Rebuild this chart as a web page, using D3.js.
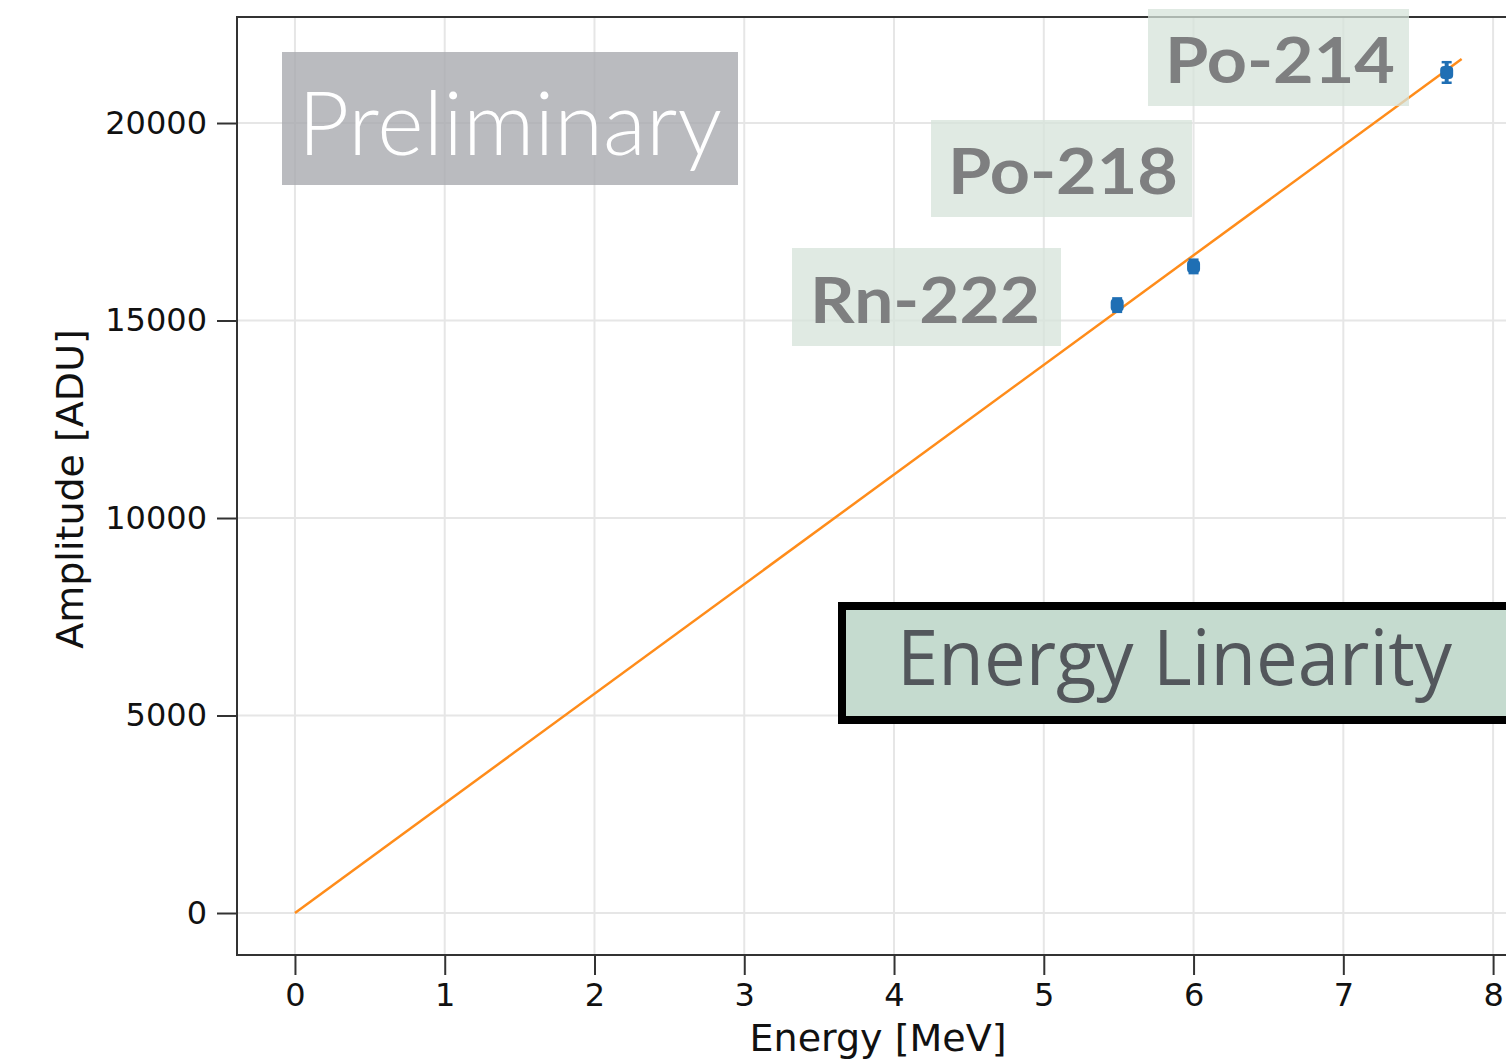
<!DOCTYPE html>
<html>
<head>
<meta charset="utf-8">
<script src="https://cdn.jsdelivr.net/npm/d3@7"></script>
<style>
  body { margin: 0; background: #fff; }
  svg { display: block; }
</style>
</head>
<body>
<svg id="chart" width="1506" height="1061"></svg>
<script>
// measured points (energy in MeV, amplitude in ADU)
const isotopes = ["Rn-222", "Po-218", "Po-214"];
const energies = [5.49, 6.00, 7.69];
const amplitudes = [15390, 16370, 21280];
const errors = [170, 170, 260];
// linear fit, drawn between its two ends
const fitE = [0, 7.79];
const fitA = [0, 21620];
const xTicks = [0, 1, 2, 3, 4, 5, 6, 7, 8];
const yTicks = [0, 5000, 10000, 15000, 20000];

const svg = d3.select("#chart");
const M = { left: 237, top: 17, bottom: 955, right: 1553 };

const x = d3.scaleLinear().domain([-0.387, 8.4]).range([M.left, M.right]);
const y = d3.scaleLinear().domain([-1063, 22684]).range([M.bottom, M.top]);

const g = svg.append("g");

// grid
g.append("g").selectAll("line").data(xTicks).join("line")
  .attr("x1", d => x(d)).attr("x2", d => x(d)).attr("y1", M.top).attr("y2", M.bottom)
  .attr("stroke", "#e6e6e6").attr("stroke-width", 2);
g.append("g").selectAll("line").data(yTicks).join("line")
  .attr("x1", M.left).attr("x2", M.right).attr("y1", d => y(d)).attr("y2", d => y(d))
  .attr("stroke", "#e6e6e6").attr("stroke-width", 2);

// fit line
g.append("path")
  .datum(fitE.map((e, i) => [e, fitA[i]]))
  .attr("d", d3.line().x(d => x(d[0])).y(d => y(d[1])))
  .attr("fill", "none").attr("stroke", "#ff8c1a").attr("stroke-width", 2.5);

// points with error bars
const pts = energies.map((e, i) => ({ e, a: amplitudes[i], err: errors[i] }));
const pg = g.append("g").attr("fill", "#1f6fb4").attr("stroke", "#1f6fb4");
pts.forEach(p => {
  const cx = x(p.e);
  pg.append("line").attr("x1", cx).attr("x2", cx).attr("y1", y(p.a - p.err)).attr("y2", y(p.a + p.err)).attr("stroke-width", 4);
  [p.a - p.err, p.a + p.err].forEach(v => {
    pg.append("line").attr("x1", cx - 5).attr("x2", cx + 5).attr("y1", y(v)).attr("y2", y(v)).attr("stroke-width", 2.5);
  });
  pg.append("rect").attr("x", cx - 6.5).attr("y", y(p.a) - 6.5).attr("width", 13).attr("height", 13).attr("rx", 4).attr("stroke", "none");
});

// axes
const xAxis = d3.axisBottom(x).tickValues(xTicks).tickSize(20).tickPadding(8).tickFormat(d3.format("d"));
const yAxis = d3.axisLeft(y).tickValues(yTicks).tickSize(20).tickPadding(10).tickFormat(d3.format("d"));
const gx = svg.append("g").attr("transform", `translate(0,${M.bottom})`).call(xAxis);
const gy = svg.append("g").attr("transform", `translate(${M.left},0)`).call(yAxis);
[gx, gy].forEach(a => {
  a.select(".domain").remove();
  a.selectAll(".tick line").attr("stroke", "#333").attr("stroke-width", 2);
  a.selectAll(".tick text").attr("fill", "#111").style("font-family", "DejaVu Sans").style("font-size", "32px");
});

// frame
svg.append("rect").attr("x", M.left).attr("y", M.top).attr("width", M.right - M.left).attr("height", M.bottom - M.top)
  .attr("fill", "none").attr("stroke", "#333").attr("stroke-width", 2);

// axis titles
svg.append("text").attr("x", 878).attr("y", 1051).attr("text-anchor", "middle")
  .style("font-family", "DejaVu Sans").style("font-size", "38px").attr("fill", "#111").text("Energy [MeV]");
svg.append("text").attr("transform", "translate(83,489) rotate(-90)").attr("text-anchor", "middle")
  .style("font-family", "DejaVu Sans").style("font-size", "38px").attr("fill", "#111").text("Amplitude [ADU]");

// isotope labels
const labelBoxes = [
  { x: 792, y: 248, w: 269, h: 98, tx: 810, ty: 323 },
  { x: 931, y: 120, w: 261, h: 97, tx: 948, ty: 194 },
  { x: 1148, y: 9, w: 261, h: 97, tx: 1165, ty: 83 }
];
isotopes.forEach((name, i) => {
  const b = labelBoxes[i];
  svg.append("rect").attr("x", b.x).attr("y", b.y).attr("width", b.w).attr("height", b.h)
    .attr("fill", "#d6e3da").attr("fill-opacity", 0.75);
  svg.append("text").attr("x", b.tx).attr("y", b.ty).attr("textLength", 230).attr("lengthAdjust", "spacingAndGlyphs")
    .style("font-family", "Lato").style("font-weight", 700).style("font-size", "64px")
    .attr("fill", "#7e7f80").text(name);
});

// Preliminary watermark
svg.append("rect").attr("x", 282).attr("y", 52).attr("width", 456).attr("height", 133)
  .attr("fill", "#a9aaaf").attr("fill-opacity", 0.8);
svg.append("text").attr("x", 298).attr("y", 155).attr("textLength", 424).attr("lengthAdjust", "spacingAndGlyphs")
  .style("font-family", "Lato").style("font-weight", 300).style("font-size", "88px")
  .attr("fill", "#fff").text("Preliminary");

// Energy Linearity box
svg.append("rect").attr("x", 842).attr("y", 606).attr("width", 700).attr("height", 114)
  .attr("fill", "#c5dbcf").attr("stroke", "#000").attr("stroke-width", 8);
svg.append("text").attr("x", 897).attr("y", 685).attr("textLength", 555).attr("lengthAdjust", "spacingAndGlyphs")
  .style("font-family", "Open Sans").style("font-size", "76px")
  .attr("fill", "#53575c").text("Energy Linearity");
</script>
</body>
</html>
